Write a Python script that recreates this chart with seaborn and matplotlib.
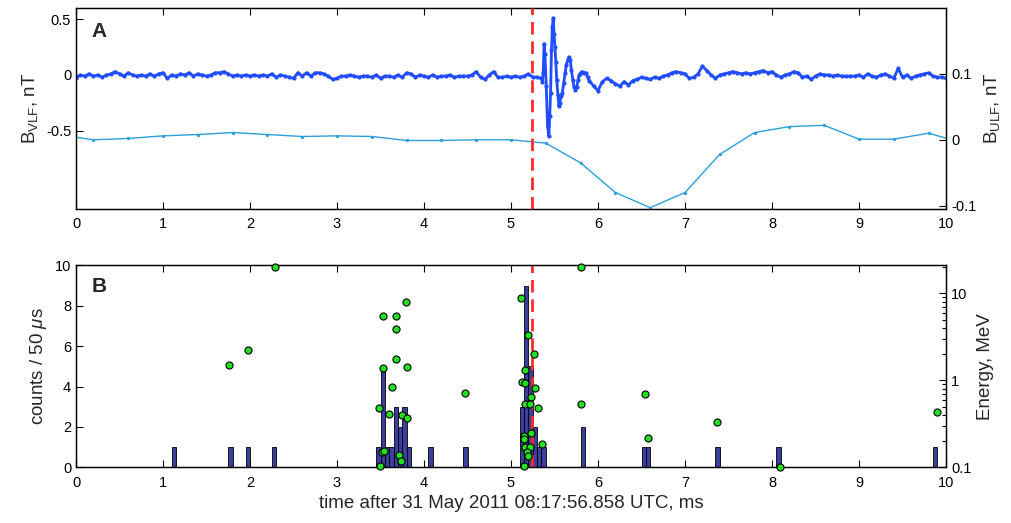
import numpy as np
import pandas as pd
import matplotlib
matplotlib.use("Agg")
import matplotlib.pyplot as plt
from matplotlib.ticker import FixedLocator, LogLocator, NullFormatter
import seaborn as sns

# --- Panel A: VLF field, nT (0.05 ms steps before and after the burst) ---
vlf_pre_start = 0.0
vlf_pre = [
    -0.03, 0.00, -0.01, 0.01, -0.01, 0.00, -0.02, 0.00, 0.01, 0.03,
    0.01, -0.01, 0.02, 0.00, -0.01, 0.00, -0.01, 0.01, -0.01, 0.01,
    0.02, -0.03, 0.00, -0.01, 0.01, 0.00, 0.02, -0.01, 0.01, 0.00,
    -0.01, 0.00, 0.02, 0.02, 0.03, 0.01, -0.01, 0.00, -0.01, 0.00,
    -0.01, 0.00, -0.01, 0.00, -0.01, 0.01, -0.02, 0.00, -0.01, -0.02,
    -0.03, 0.02, -0.01, 0.02, -0.01, 0.02, 0.02, 0.01, -0.01, -0.04,
    -0.03, -0.01, -0.01, 0.00, -0.01, -0.02, -0.01, -0.01, -0.02, 0.00,
    -0.03, -0.01, -0.01, -0.02, 0.00, -0.02, 0.02, 0.01, -0.02, 0.00,
    -0.01, -0.02, 0.00, -0.02, -0.01, -0.01, 0.00, -0.02, -0.01, -0.01,
    -0.01, 0.00, 0.03, -0.02, -0.04, 0.00, 0.03, -0.02, -0.02, -0.01,
    -0.02, -0.01, -0.02, -0.01, 0.01, -0.02, -0.02, -0.03,
]

# burst, read at the finer sampling
vlf_burst_t = [
    5.36, 5.37, 5.38, 5.39, 5.405, 5.42, 5.435, 5.445, 5.455, 5.465,
    5.475, 5.485, 5.495, 5.505, 5.515, 5.525, 5.54, 5.55, 5.56, 5.575,
    5.59, 5.605, 5.62, 5.635, 5.65, 5.665, 5.68, 5.695, 5.71, 5.725,
    5.74, 5.755, 5.77, 5.785, 5.80, 5.82, 5.84, 5.86, 5.88, 5.90,
]
vlf_burst = [
    -0.06, 0.02, 0.28, 0.19, -0.10, -0.46, -0.55, -0.37, -0.16, 0.22,
    0.43, 0.51, 0.37, 0.25, 0.12, -0.045, -0.18, -0.28, -0.25, -0.19,
    -0.16, -0.075, 0.015, 0.09, 0.13, 0.16, 0.13, 0.045, -0.045, -0.11,
    -0.13, -0.11, -0.045, 0.00, 0.02, 0.03, 0.02, 0.02, -0.02, -0.05,
]

vlf_post_start = 5.95
vlf_post = [
    -0.10, -0.14, -0.06, -0.03, -0.05, -0.08, -0.10, -0.06, -0.09, -0.05,
    -0.04, -0.02, -0.03, -0.04, -0.02, -0.03, -0.01, 0.00, 0.02, 0.03,
    0.02, 0.01, -0.03, -0.02, 0.01, 0.08, 0.04, 0.00, -0.03, 0.00,
    0.01, 0.02, 0.03, 0.02, 0.01, 0.02, 0.01, 0.02, 0.03, 0.04,
    0.02, 0.03, 0.00, -0.02, 0.00, 0.01, 0.03, 0.02, -0.02, -0.01,
    -0.04, -0.01, 0.01, 0.00, 0.00, -0.01, 0.00, -0.01, -0.01, -0.01,
    -0.01, 0.00, -0.02, 0.01, -0.01, -0.02, 0.00, 0.01, -0.01, -0.03,
    0.06, -0.02, 0.00, -0.03, -0.01, 0.00, 0.01, 0.02, -0.01, -0.02,
    -0.02, -0.03,
]

# --- Panel A: ULF field, nT ---
ulf_t = [-0.2, 0.2, 0.6, 1.0, 1.4, 1.8, 2.2, 2.6, 3.0, 3.4, 3.8, 4.2, 4.6,
         5.0, 5.4, 5.8, 6.2, 6.6, 7.0, 7.4, 7.8, 8.2, 8.6, 9.0, 9.4, 9.8, 10.2]
ulf = [0.008, 0.000, 0.002, 0.006, 0.008, 0.011, 0.008, 0.005, 0.006, 0.005,
       -0.001, -0.001, 0.000, 0.000, -0.005, -0.035, -0.080, -0.103, -0.080,
       -0.022, 0.011, 0.020, 0.022, 0.001, 0.001, 0.010, -0.005]

event_t = 5.24

# --- Panel B: counts per 50 us bin ---
bin_centers = [1.125, 1.775, 1.975, 2.275, 3.475, 3.525, 3.575, 3.625, 3.675,
               3.725, 3.775, 3.825, 4.075, 4.475, 5.125, 5.175, 5.225, 5.275,
               5.325, 5.375, 5.825, 6.525, 6.575, 7.375, 8.075, 9.875]
bin_counts = [1, 1, 1, 1, 1, 5, 1, 1, 3, 2, 3, 1, 1, 1, 3, 9, 5, 2, 1, 1, 2,
              1, 1, 1, 1, 1]

# --- Panel B: single electrons (time ms, energy MeV) ---
el_t = [1.756, 1.982, 2.285,
        3.534, 3.680, 3.792, 3.680, 3.680, 3.523, 3.803, 3.634, 3.481, 3.596,
        3.746, 3.803, 3.516, 3.542, 3.718, 3.730, 3.497,
        4.474,
        5.118, 5.191, 5.259, 5.156, 5.125, 5.160, 5.275, 5.229, 5.156, 5.221,
        5.313, 5.229, 5.145, 5.145, 5.352, 5.156, 5.214, 5.183, 5.191, 5.145,
        5.808, 5.808, 6.536, 6.575, 7.364, 8.089, 9.891]
el_E = [1.49, 2.25, 20.0,
        5.48, 5.48, 8.0, 3.85, 1.76, 1.37, 1.41, 0.84, 0.48, 0.41,
        0.40, 0.37, 0.149, 0.153, 0.138, 0.119, 0.103,
        0.72,
        8.8, 3.29, 1.99, 1.31, 0.96, 0.92, 0.82, 0.64, 0.54, 0.54,
        0.48, 0.25, 0.23, 0.21, 0.185, 0.17, 0.17, 0.151, 0.135, 0.103,
        20.0, 0.53, 0.70, 0.22, 0.33, 0.102, 0.43]

sns.set_theme(style="ticks")
plt.rcParams['font.family'] = ['Liberation Sans', 'DejaVu Sans']
plt.rcParams['mathtext.fontset'] = 'custom'
plt.rcParams['mathtext.rm'] = 'Liberation Sans'
plt.rcParams['mathtext.it'] = 'Liberation Sans:italic'
plt.rcParams['axes.edgecolor'] = 'black'
plt.rcParams['axes.linewidth'] = 0.9

TICK = 10.5
LABEL = 13.5

vlf_df = pd.DataFrame({
    't': np.concatenate([vlf_pre_start + 0.05 * np.arange(len(vlf_pre)),
                         vlf_burst_t,
                         vlf_post_start + 0.05 * np.arange(len(vlf_post))]),
    'b': np.concatenate([vlf_pre, vlf_burst, vlf_post]),
})
ulf_df = pd.DataFrame({'t': ulf_t, 'b': ulf})
el_df = pd.DataFrame({'t': el_t, 'E': el_E})

fig = plt.figure(figsize=(10.12, 5.23), dpi=100)
axA = fig.add_axes([0.0751, 0.6004, 0.8597, 0.3843])
axA2 = axA.twinx()
axB = fig.add_axes([0.0751, 0.1065, 0.8597, 0.3862])
axB2 = axB.twinx()

# --- A ---
sns.lineplot(data=vlf_df, x='t', y='b', ax=axA, estimator=None, sort=False,
             color='#1f4dff', lw=2.0, marker='o', markersize=3.0,
             markeredgewidth=0)
sns.lineplot(data=ulf_df, x='t', y='b', ax=axA2, estimator=None, sort=False,
             color='#2ba0dc', lw=1.0, marker='o', markersize=2.4,
             markeredgewidth=0)
axA2.axvline(event_t, color='#ff2b2b', lw=2, dashes=(4.5, 2.5), zorder=5)

axA.set_xlim(0, 10)
axA.set_ylim(-1.2, 0.6)
axA.set_yticks([-0.5, 0, 0.5])
axA.set_yticklabels(['-0.5', '0', '0.5'])
axA2.set_ylim(-0.105, 0.2)
axA2.set_yticks([-0.1, 0, 0.1])
axA2.set_yticklabels(['-0.1', '0', '0.1'])
axA.set_xticks(range(11))
axA.set_xlabel('')
axA.set_ylabel(r'B$_{\mathrm{VLF}}$, nT', fontsize=LABEL)
axA2.set_ylabel(r'B$_{\mathrm{ULF}}$, nT', fontsize=LABEL)
axA.text(0.018, 0.885, 'A', transform=axA.transAxes, fontsize=15,
         fontweight='bold', ha='left', va='center')

# --- B ---
axB.bar(bin_centers, bin_counts, width=0.05, color='#3b3e9b',
        edgecolor='black', linewidth=0.6, zorder=2)
axB.axvline(event_t, color='#ff2b2b', lw=2, dashes=(4.5, 2.5), zorder=3)
axB2.set_yscale('log')
axB2.set_ylim(0.1, 21)
sns.scatterplot(data=el_df, x='t', y='E', ax=axB2, s=26, color='#22e022',
                edgecolor='black', linewidth=0.8, clip_on=False, zorder=5)
axB.set_xlim(0, 10)
axB.set_ylim(0, 10)
axB.set_xticks(range(11))
axB.set_yticks(range(0, 11, 2))
axB2.yaxis.set_major_locator(FixedLocator([0.1, 1, 10]))
axB2.set_yticklabels(['0.1', '1', '10'])
axB2.yaxis.set_minor_locator(LogLocator(base=10, subs=np.arange(2, 10)))
axB2.yaxis.set_minor_formatter(NullFormatter())
axB.set_xlabel('time after 31 May 2011 08:17:56.858 UTC, ms', fontsize=LABEL)
axB.set_ylabel(r'counts / 50 $\mu$s', fontsize=LABEL)
axB2.set_ylabel('Energy, MeV', fontsize=LABEL)
axB.text(0.018, 0.893, 'B', transform=axB.transAxes, fontsize=15,
         fontweight='bold', ha='left', va='center')

for ax in (axA, axB):
    ax.tick_params(axis='both', direction='in', length=5, width=0.8,
                   labelsize=TICK, colors='black')
    ax.tick_params(axis='x', top=True, pad=6)
for ax in (axA2, axB2):
    ax.tick_params(axis='y', which='both', direction='in', width=0.8,
                   labelsize=TICK, colors='black')
    ax.tick_params(axis='y', which='major', length=5)
    ax.tick_params(axis='y', which='minor', length=3)
    ax.set_xlim(0, 10)
    ax.set_xlabel('')

fig.savefig('out.png', dpi=100)
